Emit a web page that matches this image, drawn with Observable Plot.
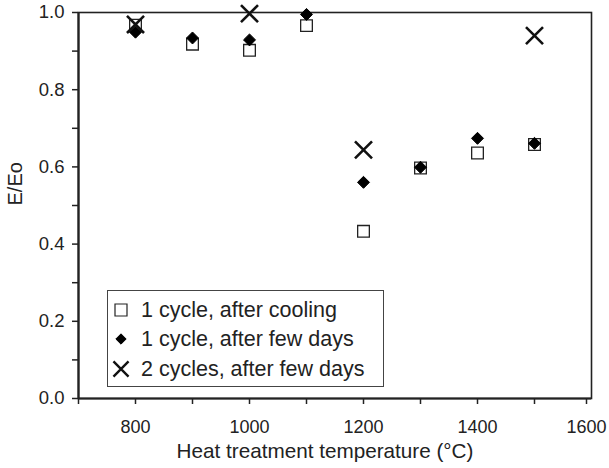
<!DOCTYPE html>
<html>
<head>
<meta charset="utf-8">
<script src="https://cdn.jsdelivr.net/npm/d3@7"></script>
<script src="https://cdn.jsdelivr.net/npm/@observablehq/plot@0.6"></script>
<style>
  html, body { margin: 0; padding: 0; background: #fff; }
  #wrap { position: relative; width: 609px; height: 468px; font-family: "Liberation Sans", Arial, sans-serif; }
  #legend { position: absolute; left: 107px; top: 290px; width: 275px; height: 95px; border: 1px solid #444; background: #fff; }
  .row { position: absolute; left: 0; height: 28px; line-height: 28px; font-size: 21.5px; color: #222; white-space: nowrap; }
  .row svg { position: absolute; left: 0; top: 0; }
  .row span { position: absolute; left: 33px; top: 0; }
</style>
</head>
<body>
<div id="wrap"></div>
<script>
// Data
const temps = [800, 900, 1000, 1100, 1200, 1300, 1400, 1500];
const afterCooling = [0.967, 0.918, 0.902, 0.966, 0.433, 0.597, 0.636, 0.658];
const afterFewDays = [0.949, 0.934, 0.929, 0.995, 0.560, 0.599, 0.674, 0.661];
const twoCycleTemps = [800, 1000, 1200, 1500];
const twoCycles = [0.969, 0.997, 0.644, 0.940];

const seriesNames = ["1 cycle, after cooling", "1 cycle, after few days", "2 cycles, after few days"];
const xTickLabels = [800, 1000, 1200, 1400];
const xLastTickLabel = [1600];
const xMinorTicks = [700, 900, 1100, 1300, 1500];
const yTickLabels = [0, 0.2, 0.4, 0.6, 0.8, 1.0];
const yMinorTicks = [0.1, 0.3, 0.5, 0.7, 0.9];
const xTitle = "Heat treatment temperature (°C)";
const yTitle = "E/Eo";

const cooling = temps.map((t, i) => ({t, v: afterCooling[i]}));
const fewDays = temps.map((t, i) => ({t, v: afterFewDays[i]}));
const two = twoCycleTemps.map((t, i) => ({t, v: twoCycles[i]}));

const textColor = "#222";
const xfmt = d3.format("d");

const chart = Plot.plot({
  width: 609,
  height: 468,
  marginLeft: 78,
  marginRight: 18,
  marginTop: 12,
  marginBottom: 70,
  style: {fontFamily: "'Liberation Sans', Arial, sans-serif", color: textColor, background: "#fff"},
  x: {domain: [700, 1600], label: null},
  y: {domain: [0, 1], label: null},
  marks: [
    Plot.frame({stroke: "#222", strokeWidth: 1.6}),
    Plot.ruleX([700], {stroke: "#222", strokeWidth: 2.2}),
    Plot.ruleY([0], {stroke: "#222", strokeWidth: 2.2}),
    Plot.axisX({ticks: xTickLabels, tickSize: 6, tickPadding: 16, fontSize: 18, tickFormat: xfmt, stroke: "#222", strokeWidth: 1.5, label: null, fill: textColor}),
    Plot.axisX({ticks: xLastTickLabel, tickSize: 6, tickPadding: 16, fontSize: 18, tickFormat: xfmt, dx: -5, stroke: "#222", strokeWidth: 1.5, label: null, fill: textColor}),
    Plot.axisX({ticks: xMinorTicks, tickSize: 6, text: null, stroke: "#222", strokeWidth: 1.5, label: null}),
    Plot.axisY({ticks: yTickLabels, tickSize: 6, tickPadding: 8, fontSize: 18.5, tickFormat: d3.format(".1f"), stroke: "#222", strokeWidth: 1.5, label: null, fill: textColor}),
    Plot.axisY({ticks: yMinorTicks, tickSize: 6, text: null, stroke: "#222", strokeWidth: 1.5, label: null}),
    Plot.text([xTitle], {frameAnchor: "bottom", dy: 59, dx: -10, fontSize: 20.7, fill: textColor}),
    Plot.text([yTitle], {frameAnchor: "left", dx: -63, rotate: -90, fontSize: 20, fill: textColor}),
    Plot.dot(cooling, {x: "t", y: "v", symbol: "square", r: 6.6, fill: "none", stroke: "#222", strokeWidth: 1.3}),
    Plot.dot(fewDays, {x: "t", y: "v", symbol: "diamond2", r: 5.4, fill: "#000", stroke: "#000", strokeWidth: 1}),
    Plot.dot(two, {x: "t", y: "v", symbol: "times", r: 7.8, fill: "none", stroke: "#111", strokeWidth: 2.6})
  ]
});

const wrap = document.getElementById("wrap");
wrap.appendChild(chart);

// Legend (inside the plot area, as in the reference)
const legend = document.createElement("div");
legend.id = "legend";
const symbols = [
  {type: d3.symbolSquare, size: 144, fill: "none", stroke: "#222", sw: 1.2},
  {type: d3.symbolDiamond2, size: 68, fill: "#000", stroke: "#000", sw: 1},
  {type: d3.symbolTimes, size: 150, fill: "none", stroke: "#111", sw: 2.4}
];
const rowTops = [5, 34, 64];
seriesNames.forEach((name, i) => {
  const row = document.createElement("div");
  row.className = "row";
  row.style.top = rowTops[i] + "px";
  const s = symbols[i];
  const svg = d3.create("svg").attr("width", 28).attr("height", 28);
  svg.append("path")
    .attr("transform", "translate(13,14)")
    .attr("d", d3.symbol(s.type, s.size)())
    .attr("fill", s.fill).attr("stroke", s.stroke).attr("stroke-width", s.sw);
  row.appendChild(svg.node());
  const span = document.createElement("span");
  span.textContent = name;
  row.appendChild(span);
  legend.appendChild(row);
});
wrap.appendChild(legend);
</script>
</body>
</html>
